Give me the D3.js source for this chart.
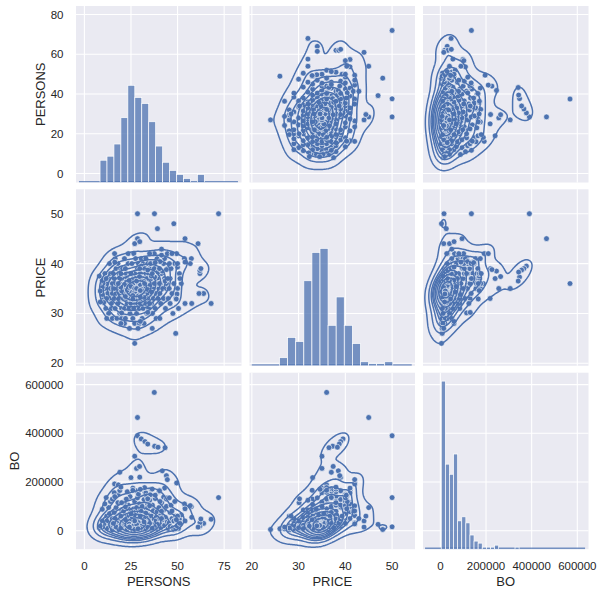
<!DOCTYPE html>
<html><head><meta charset="utf-8">
<script src="https://cdn.jsdelivr.net/npm/d3@7"></script>
<style>
body{margin:0;background:#fff}
text{font-family:"Liberation Sans",Arial,sans-serif;fill:#262626}
</style>
</head><body>
<svg id="c" width="602" height="589"></svg>
<script>
// ---------------- data ----------------
const persons = [
 10.5,11,11.5,12,12.5,13,13,13.5,14,14,14.5,15,15,11,12,13.5,14.5,10,12,15,
 15.5,16,16,16.5,17,17,17.5,18,18,18.5,19,19,19.5,16.5,17.5,18,19,20,20,16,18.5,17,19.5,15.5,20,
 20.5,21,21,21.5,22,22,22.5,23,23,23.5,24,24,24.5,24.5,25,25,20.5,21.5,22,23,23.5,24,21,22.5,23.5,20,24.5,21.5,22,25,
 25.5,26,26,26.5,26.5,27,27,27.5,27.5,28,28,28.5,28.5,29,29,29.5,29.5,30,30,25.5,26,26.5,27,27.5,28,29,29.5,30,25,26,27,28,29,28.5,26.5,27.5,30,
 30.5,31,31,31.5,31.5,32,32,32.5,32.5,33,33,33.5,33.5,34,34,34.5,34.5,35,30.5,31,31.5,32,33,33.5,34,30.5,32,33,34.5,35,
 35.5,36,36,36.5,37,37,37.5,38,38,38.5,39,39,39.5,40,35.5,36.5,37.5,38.5,40,36,39.5,35,
 40.5,41,41,41.5,42,42.5,42.5,43,43.5,44,44.5,45,40.5,43,44,
 45.5,46,46,46.5,47,47.5,48,48.5,49,50,50.5,51,52,
 22,23,24,25,26,27,28,29,30,31, 32,33,21,22.5,23.5,24.5,25.5,26.5,27.5,28.5,
 29.5,30.5,31.5,32.5,33.5,20,21.5,23,24,25, 26,27,28,29,30,31,32,33,34,35,
 19.5,22,24,26,28,30,32,34,36,25,
 72,37.5,28.5,28.5,30.5,32.5,34,37.7,39.5,43.3,
 27,19,25,29.7,28,29.6,41.8,44,49.5,16.2,
 44.5,54,57.4,56.8,53.7,48,39.2,37.6,27,49,
 68,64,61.5,62,62,62.5,61,27,57.6,54,
 54,50,50,41.4,41.4,40.6,29.7,16.3,36.4,28.8,
 24.2,19.6,10.4,9.6,9.6,9.6,8.5,49.7,49.3,51.3,
 8,8.5,11.7,18.2,32.3,35.9,40.3,44.8,35,47,
 20,34,30,30,26,40.3,36.4,45.6,38,19.6
];
const price = [
 33,35,31,36,34,30,37,33,35,38,32,34,36,38,29,40,31,36,33,29,
 35,33,37,31,34,39,36,32,35,38,30,34,36,41,29,40,37,33,31,35,33,36,39,38,29,
 35,33,37,31,34,36,38,32,35,40,33,36,30,38,34,36,39,41,29,37,34,31,35,33,42,37,35,28,39,32,
 35,33,37,31,36,34,38,32,35,36,30,34,39,33,37,35,31,36,34,40,29,42,28,41,33,40,28,38,38,35,36,35,36,32,34,37,32,
 35,33,37,31,36,34,39,32,36,35,38,30,34,36,33,38,31,35,41,29,40,28,41,37,40,33,36,32,35,39,
 34,36,32,38,35,33,39,31,36,34,37,41,33,35,40,30,42,29,38,37,36,32,
 34,36,32,38,35,33,40,37,31,35,39,33,29,41,36,
 35,37,32,39,34,30,36,40,33,35,31,38,36,
 34.3,35.4,33.2,36.1,34.6,35.2,33.7,35.8,34.9,34.1, 35.6,33.4,35.1,36.3,33.6,34.4,36.7,35.3,33.1,36.2,
 34.2,36.6,35.3,34.4,35.7,34.5,35.8,34.7,35.2,33.3, 35.9,34.3,35.1,33.5,35.7,34.8,33.2,35.4,34.1,35.6,
 35.3,33.4,36.6,33.6,36.5,33.3,36.4,34.8,34.3,35.4,
 50,36,45,50,39.5,39,38.7,37.3,38.3,36.5,
 35,37,33,39,35,37.4,38.5,38.8,42,42,
 42,45,41,40,41,48,47,50,24,26,
 32,34,34,38,38.6,39,44,44,32,32,
 40.3,39.3,40,41.7,42.9,40.4,44.4,40.3,27,27,
 27,28,32.2,33.8,35.2,36.6,34.5,33.9,32.9,37,
 37.5,32.3,37,36,36,37.5,36,37,42,42,
 30.1,30.2,28.4,34.6,32.9,39,38,40,40.2,38
];
const bo = [
 12000,45000,8000,60000,25000,5000,95000,15000,30000,120000,8000,50000,130000,110000,10000,70000,18000,20000,40000,3000,
 20000,45000,75000,10000,28000,95000,12000,55000,115000,38000,6000,65000,9000,50000,20000,150000,165000,25000,85000,156000,4000,15000,48000,30000,12000,
 40000,10000,80000,50000,22000,125000,35000,8000,60000,105000,42000,15000,28000,140000,75000,5000,18000,115000,25000,160000,90000,62000,26000,130000,32000,58000,10000,5000,98000,14000,
 22000,55000,12000,35000,90000,7000,120000,68000,30000,48000,16000,135000,28000,9000,75000,110000,44000,18000,58000,40000,8000,62000,20000,165000,95000,150000,4000,38000,80000,175000,26000,11000,52000,30000,14000,17000,85000,
 27000,50000,100000,13000,70000,36000,128000,18000,158000,9000,55000,40000,88000,22000,108000,65000,7000,45000,80000,22000,32000,11000,155000,142000,95000,15000,5000,72000,118000,36000,
 18000,60000,30000,105000,14000,82000,46000,22000,132000,55000,9000,78000,35000,95000,148000,7000,28000,40000,160000,172000,18000,125000,
 26000,65000,13000,115000,45000,85000,138000,22000,55000,100000,36000,9000,50000,175000,130000,
 32000,75000,18000,105000,50000,12000,40000,120000,60000,28000,9000,48000,65000,
 8000,20000,5000,35000,12000,50000,18000,6000,28000,10000, 42000,15000,22000,3000,30000,14000,60000,9000,25000,40000,
 7000,16000,55000,5000,24000,13000,38000,4000,27000,11000, 19000,65000,8000,33000,12000,21000,48000,6000,17000,30000,
 10000,45000,16000,4000,26000,9000,36000,14000,5000,70000,
 136000,568000,465000,390000,377000,366000,356000,347000,343000,341000,
 306000,240000,218000,220000,256000,264000,246000,226000,196000,192000,
 210000,95000,99000,103000,110000,5000,26000,16000,5000,8000,
 47000,30000,15000,19000,33000,48000,15000,40000,55000,40000,
 90000,60000,30000,80000,50000,120000,60000,140000,10000,8000,
 15000,60000,26000,88000,15000,40000,22000,20000,45000,30000,
 12000,19000,136000,188000,177000,170000,166000,136000,102000,81000,
 115000,131000,60000,170000,166000,164000,171000,135000,146000,179000
];
const variables = ["PERSONS","PRICE","BO"];
const persTicks = [0,25,50,75];
const persYTicks = [0,20,40,60,80];
const priceTicks = [20,30,40,50];
const boTicks = [0,200000,400000,600000];
// histogram counts on the diagonal
const persHist  = [11,13,19,32,48,42,39,30,18,10,6,4,2,0,4];
const priceHist = [0,4,14,12,42,56,58,20,34,20,11,2,1,1,2];
const boHist    = [83,42,37,47,14,16,13,7,4,3,1,1,1,2,0,0,0,0,1];
const histStart = [8.4, 24.2, 4000];
const histWidth = [3.73, 1.73, 17950];
const baselineExtent = [[-2.9,82.4],[19.97,54.2],[-67000,634000]];
const axisLimits = [[-4.5,84.3],[19.5,54.9],[-76000,649000]];

// ---------------- layout ----------------
const colX=[76,249.5,423], rowY=[6,189.3,372.7], W=165.5, H=176.5;
const BLUE="#4c72b0", BG="#eaeaf2";
const series=[persons,price,bo];
const xTicks=[persTicks,priceTicks,boTicks];
const yTicks=[persYTicks,priceTicks,boTicks];
const hists=[persHist,priceHist,boHist];

const svg=d3.select("#c");
const defs=svg.append("defs");
const xs=axisLimits.map((d,j)=>d3.scaleLinear().domain(d).range([colX[j],colX[j]+W]));
const ys=axisLimits.map((d,i)=>d3.scaleLinear().domain(d).range([rowY[i]+H,rowY[i]]));
const maxCount=d3.max([...persHist,...priceHist,...boHist]);

function kde2d(xv,yv){
  const n=xv.length,f=Math.pow(n,-1/6);
  const mx=d3.mean(xv),my=d3.mean(yv);
  let sxx=0,syy=0,sxy=0;
  for(let k=0;k<n;k++){const a=xv[k]-mx,b=yv[k]-my;sxx+=a*a;syy+=b*b;sxy+=a*b;}
  sxx/=n-1;syy/=n-1;sxy/=n-1;
  const cxx=sxx*f*f,cyy=syy*f*f,cxy=sxy*f*f,det=cxx*cyy-cxy*cxy;
  const ia=cyy/det,ib=-cxy/det,ic=cxx/det;
  const bx=Math.sqrt(cxx),by=Math.sqrt(cyy);
  const x0=d3.min(xv)-3*bx,x1=d3.max(xv)+3*bx,y0=d3.min(yv)-3*by,y1=d3.max(yv)+3*by;
  const G=140,dx=(x1-x0)/(G-1),dy=(y1-y0)/(G-1);
  const v=new Float64Array(G*G);
  for(let r=0;r<G;r++){const gy=y0+r*dy;
    for(let c=0;c<G;c++){const gx=x0+c*dx;let s=0;
      for(let k=0;k<n;k++){const a=gx-xv[k],b=gy-yv[k];const q=ia*a*a+2*ib*a*b+ic*b*b;if(q<50)s+=Math.exp(-0.5*q);}
      v[r*G+c]=s;}}
  const sorted=Array.from(v).sort((a,b)=>b-a);const tot=d3.sum(sorted);
  const cum=[];let acc=0;for(const s of sorted){acc+=s;cum.push(acc/tot);}
  const props=d3.range(10).map(t=>0.05+t*0.95/9);
  const levels=props.slice(0,-1).map(p=>sorted[Math.min(d3.bisectLeft(cum,1-p),sorted.length-1)]);
  const cs=d3.contours().size([G,G]).thresholds(levels)(v);
  return {cs,x0,y0,dx,dy};
}

for(let i=0;i<3;i++){
  for(let j=0;j<3;j++){
    const X=xs[j],Y=ys[i];
    const g=svg.append("g");
    const id=`clip${i}${j}`;
    defs.append("clipPath").attr("id",id).append("rect")
      .attr("x",colX[j]).attr("y",rowY[i]).attr("width",W).attr("height",H);
    g.append("rect").attr("x",colX[j]).attr("y",rowY[i]).attr("width",W).attr("height",H).attr("fill",BG);
    g.selectAll(".vg").data(xTicks[j]).join("line")
      .attr("x1",d=>X(d)).attr("x2",d=>X(d)).attr("y1",rowY[i]).attr("y2",rowY[i]+H)
      .attr("stroke","#fff").attr("stroke-width",1.1);
    g.selectAll(".hg").data(yTicks[i]).join("line")
      .attr("y1",d=>Y(d)).attr("y2",d=>Y(d)).attr("x1",colX[j]).attr("x2",colX[j]+W)
      .attr("stroke","#fff").attr("stroke-width",1.1);
    const inner=g.append("g").attr("clip-path",`url(#${id})`);
    if(i===j){
      const C=d3.scaleLinear().domain([0,maxCount*1.05]).range([rowY[i]+H,rowY[i]]);
      const base=rowY[i]+H;
      inner.append("line").attr("x1",X(baselineExtent[j][0])).attr("x2",X(baselineExtent[j][1]))
        .attr("y1",base-0.8).attr("y2",base-0.8).attr("stroke",BLUE).attr("stroke-opacity",0.75).attr("stroke-width",1.6);
      const bars=hists[j].map((c,k)=>({c,a:histStart[j]+k*histWidth[j],b:histStart[j]+(k+1)*histWidth[j]})).filter(d=>d.c>0);
      inner.selectAll("rect.bar").data(bars).join("rect")
        .attr("x",d=>X(d.a)).attr("width",d=>X(d.b)-X(d.a))
        .attr("y",d=>C(d.c)).attr("height",d=>base-C(d.c))
        .attr("fill",BLUE).attr("fill-opacity",0.75).attr("stroke","#fff").attr("stroke-width",0.7);
    } else {
      const xv=series[j],yv=series[i];
      inner.selectAll("circle").data(d3.range(xv.length)).join("circle")
        .attr("cx",k=>X(xv[k])).attr("cy",k=>Y(yv[k])).attr("r",2.9)
        .attr("fill",BLUE).attr("stroke","#fff").attr("stroke-width",0.6);
      const k=kde2d(xv,yv);
      const proj=d3.geoTransform({point(px,py){this.stream.point(X(k.x0+(px-0.5)*k.dx),Y(k.y0+(py-0.5)*k.dy));}});
      const path=d3.geoPath(proj);
      inner.selectAll("path.kde").data(k.cs).join("path")
        .attr("d",path).attr("fill","none").attr("stroke",BLUE).attr("stroke-width",1.5);
    }
  }
}

// tick labels
for(let i=0;i<3;i++){
  const tl=svg.append("g").selectAll("text").data(yTicks[i]).join("text")
    .attr("x",63.5).attr("y",d=>ys[i](d)).attr("dy","0.35em").attr("text-anchor","end")
    .attr("font-size",11.5).text(d=>String(d));
  let minLeft=1e9;
  tl.each(function(){const b=this.getBBox();minLeft=Math.min(minLeft,b.x);});
  svg.append("text").attr("transform",`translate(${minLeft-6},${rowY[i]+H/2}) rotate(-90)`)
    .attr("text-anchor","middle").attr("font-size",13).text(variables[i]);
}
for(let j=0;j<3;j++){
  svg.append("g").selectAll("text").data(xTicks[j]).join("text")
    .attr("x",d=>xs[j](d)).attr("y",570).attr("text-anchor","middle")
    .attr("font-size",11.5).text(d=>String(d));
  svg.append("text").attr("x",colX[j]+W/2).attr("y",586).attr("text-anchor","middle")
    .attr("font-size",13).text(variables[j]);
}
</script>
</body></html>
